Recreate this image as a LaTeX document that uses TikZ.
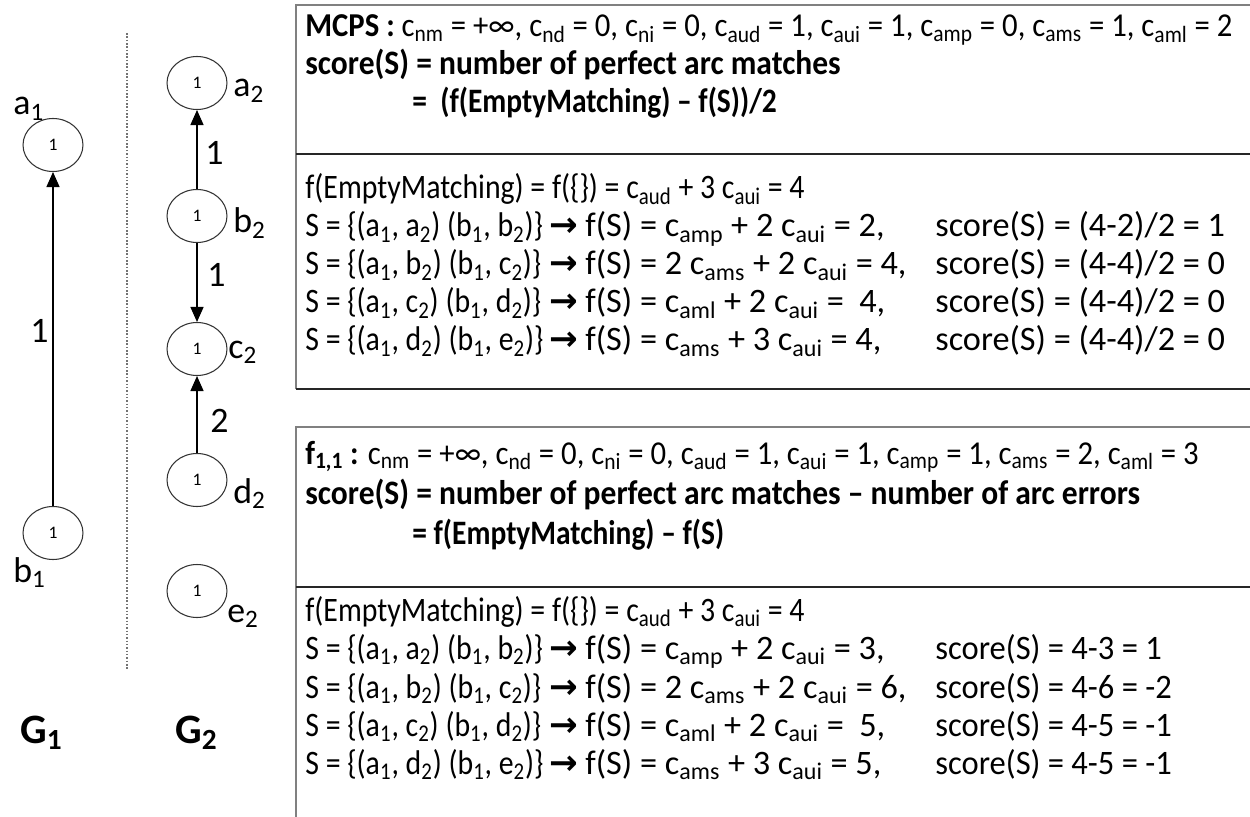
\documentclass[tikz,border=0pt]{standalone}
\usepackage{fontspec}
\setmainfont{Carlito}
\newfontfamily\hdrfont[FakeStretch=0.92]{Carlito}
\newfontfamily\eqfont[FakeStretch=0.86]{Carlito}
\newfontfamily\rowfont[FakeStretch=0.87]{Carlito}
\newfontfamily\fsfont[FakeStretch=1.0]{Carlito}
\newfontfamily\scorefontA[FakeStretch=1.0]{Carlito}
\newfontfamily\scorefontB[FakeStretch=0.95]{Carlito}
\newfontfamily\arrowfont{DejaVu Sans}
\usetikzlibrary{arrows.meta,shapes.geometric}

\newcommand\lo[1]{\textsubscript{#1}}
\newcommand\imp{{\arrowfont\bfseries →}}

\begin{document}
\begin{tikzpicture}[x=0.02cm,y=-0.02cm,
  vertex/.style={ellipse,draw=black!80,line width=0.6pt,minimum width=1.2cm,
    minimum height=1.06cm,inner sep=0pt,font=\fontsize{10}{12}\selectfont},
  vlabel/.style={anchor=base west,inner sep=0pt,font=\fontsize{20.4}{24}\selectfont},
  glabel/.style={anchor=base west,inner sep=0pt,font=\fontsize{23.8}{28}\selectfont\bfseries},
  arc/.style={line width=0.8pt,-{Triangle[length=0.3cm,width=0.26cm]}},
  row/.style={anchor=base west,inner sep=0pt,font=\rowfont\fontsize{19.5}{22}\selectfont},
  fsrow/.style={row,font=\fsfont\fontsize{19.5}{22}\selectfont},
  scoreA/.style={row,font=\scorefontA\fontsize{19.5}{22}\selectfont},
  scoreB/.style={row,font=\scorefontB\fontsize{19.5}{22}\selectfont},
  param/.style={anchor=base west,inner sep=0pt,font=\hdrfont\fontsize{19}{22}\selectfont},
  hdr/.style={anchor=base west,inner sep=0pt,font=\hdrfont\fontsize{19.5}{22}\selectfont\bfseries},
  eqhdr/.style={anchor=base west,inner sep=0pt,font=\eqfont\fontsize{19.5}{22}\selectfont\bfseries},
  greyline/.style={draw=black!50,line width=1.1pt},
  darkline/.style={draw=black!85,line width=1.1pt},
]
\useasboundingbox (0,0) rectangle (1250,817);
\clip (0,0) rectangle (1250,817);

% ---------- graph G1 ----------
\node[vertex] (a1) at (53,145) {1};
\node[vertex] (b1) at (53,533) {1};
\draw[arc] (b1) -- (a1);
\node[vlabel] (la1) at (13,115) {a\lo{1}};
\node[vlabel] (lb1) at (13,582) {b\lo{1}};
\node[vlabel] (e11) at (30,342) {1};

% separator
\coordinate (sepT) at (127,33);
\coordinate (sepB) at (127,670);
\draw[black!55,line width=0.9pt,densely dotted] (sepT) -- (sepB);

% ---------- graph G2 ----------
\node[vertex] (a2) at (197,83) {1};
\node[vertex] (b2) at (197,216) {1};
\node[vertex] (c2) at (197,349) {1};
\node[vertex] (d2) at (197,480) {1};
\node[vertex] (e2) at (197,591) {1};
\draw[arc] (b2) -- (a2);
\draw[arc] (b2) -- (c2);
\draw[arc] (d2) -- (c2);
\node[vlabel] (la2) at (233,97) {a\lo{2}};
\node[vlabel] (lb2) at (233,233) {b\lo{2}};
\node[vlabel] (lc2) at (228,358) {c\lo{2}};
\node[vlabel] (ld2) at (233,503) {d\lo{2}};
\node[vlabel] (le2) at (227,622) {e\lo{2}};
\node[vlabel] (eab) at (205,165) {1};
\node[vlabel] (ebc) at (207,287) {1};
\node[vlabel] (edc) at (210,432) {2};

\node[glabel] (G1) at (20,743) {G\lo{1}};
\node[glabel] (G2) at (175,743) {G\lo{2}};

% ---------- box 1: MCPS ----------
\draw[greyline] (1260,5) -- (296,5) -- (296,154);
\draw[greyline] (296,154) -- (296,389);
\draw[darkline] (296,154) -- (1260,154);
\draw[darkline] (296,389) -- (1260,389);

\node[param] (m0) at (305,37) {\textbf{MCPS :} c\lo{nm} = +∞, c\lo{nd} = 0, c\lo{ni} = 0, c\lo{aud} = 1, c\lo{aui} = 1, c\lo{amp} = 0, c\lo{ams} = 1, c\lo{aml} = 2};
\node[hdr] (m1) at (305,75) {score(S) = number of perfect arc matches};
\node[eqhdr] (m2) at (412,113) {= \ (f(EmptyMatching) – f(S))/2};

\node[row] (p0) at (305,199) {f(EmptyMatching) = f(\{\}) = c\lo{aud} + 3 c\lo{aui} = 4};
\node[row] (p1a) at (305,237) {S = \{(a\lo{1}, a\lo{2}) (b\lo{1}, b\lo{2})\}};
\node[row] (p1b) at (549,237) {\imp};
\node[fsrow] (p1c) at (585,237) {f(S) = c\lo{amp} + 2 c\lo{aui} = 2,};
\node[scoreA] (p1d) at (935,237) {score(S) = (4-2)/2 = 1};
\node[row] (p2a) at (305,275) {S = \{(a\lo{1}, b\lo{2}) (b\lo{1}, c\lo{2})\}};
\node[row] (p2b) at (549,275) {\imp};
\node[fsrow] (p2c) at (585,275) {f(S) = 2 c\lo{ams} + 2 c\lo{aui} = 4,};
\node[scoreA] (p2d) at (935,275) {score(S) = (4-4)/2 = 0};
\node[row] (p3a) at (305,313) {S = \{(a\lo{1}, c\lo{2}) (b\lo{1}, d\lo{2})\}};
\node[row] (p3b) at (549,313) {\imp};
\node[fsrow] (p3c) at (585,313) {f(S) = c\lo{aml} + 2 c\lo{aui} = \ 4,};
\node[scoreA] (p3d) at (935,313) {score(S) = (4-4)/2 = 0};
\node[row] (p4a) at (305,351) {S = \{(a\lo{1}, d\lo{2}) (b\lo{1}, e\lo{2})\}};
\node[row] (p4b) at (549,351) {\imp};
\node[fsrow] (p4c) at (585,351) {f(S) = c\lo{ams} + 3 c\lo{aui} = 4,};
\node[scoreA] (p4d) at (935,351) {score(S) = (4-4)/2 = 0};

% ---------- box 2: f_{1,1} ----------
\draw[greyline] (1260,427) -- (296,427) -- (296,587);
\draw[greyline] (296,587) -- (296,830);
\draw[darkline] (296,587) -- (1260,587);

\node[param] (f0) at (305,464) {\textbf{f\lo{1,1} :} c\lo{nm} = +∞, c\lo{nd} = 0, c\lo{ni} = 0, c\lo{aud} = 1, c\lo{aui} = 1, c\lo{amp} = 1, c\lo{ams} = 2, c\lo{aml} = 3};
\node[hdr] (f1) at (305,504) {score(S) = number of perfect arc matches – number of arc errors};
\node[eqhdr] (f2) at (412,544) {= f(EmptyMatching) – f(S)};

\node[row] (q0) at (305,621) {f(EmptyMatching) = f(\{\}) = c\lo{aud} + 3 c\lo{aui} = 4};
\node[row] (q1a) at (305,659) {S = \{(a\lo{1}, a\lo{2}) (b\lo{1}, b\lo{2})\}};
\node[row] (q1b) at (549,659) {\imp};
\node[fsrow] (q1c) at (585,659) {f(S) = c\lo{amp} + 2 c\lo{aui} = 3,};
\node[scoreB] (q1d) at (935,659) {score(S) = 4-3 = 1};
\node[row] (q2a) at (305,698) {S = \{(a\lo{1}, b\lo{2}) (b\lo{1}, c\lo{2})\}};
\node[row] (q2b) at (549,698) {\imp};
\node[fsrow] (q2c) at (585,698) {f(S) = 2 c\lo{ams} + 2 c\lo{aui} = 6,};
\node[scoreB] (q2d) at (935,698) {score(S) = 4-6 = -2};
\node[row] (q3a) at (305,736) {S = \{(a\lo{1}, c\lo{2}) (b\lo{1}, d\lo{2})\}};
\node[row] (q3b) at (549,736) {\imp};
\node[fsrow] (q3c) at (585,736) {f(S) = c\lo{aml} + 2 c\lo{aui} = \ 5,};
\node[scoreB] (q3d) at (935,736) {score(S) = 4-5 = -1};
\node[row] (q4a) at (305,774) {S = \{(a\lo{1}, d\lo{2}) (b\lo{1}, e\lo{2})\}};
\node[row] (q4b) at (549,774) {\imp};
\node[fsrow] (q4c) at (585,774) {f(S) = c\lo{ams} + 3 c\lo{aui} = 5,};
\node[scoreB] (q4d) at (935,774) {score(S) = 4-5 = -1};
\end{tikzpicture}
\end{document}
